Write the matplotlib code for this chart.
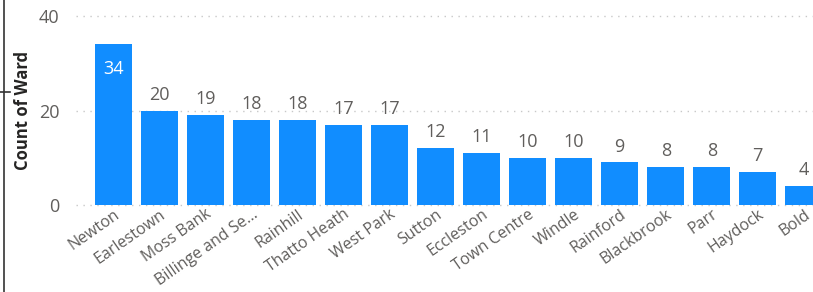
import matplotlib.pyplot as plt
from matplotlib.lines import Line2D

# Ward counts
wards = ["Newton", "Earlestown", "Moss Bank", "Billinge and Se...", "Rainhill",
         "Thatto Heath", "West Park", "Sutton", "Eccleston", "Town Centre",
         "Windle", "Rainford", "Blackbrook", "Parr", "Haydock", "Bold"]
counts = [34, 20, 19, 18, 18, 17, 17, 12, 11, 10, 10, 9, 8, 8, 7, 4]
y_ticks = [0, 20, 40]

bar_color = "#118DFF"
text_gray = "#605E5C"

plt.rcParams['font.family'] = ['Open Sans', 'DejaVu Sans']

fig = plt.figure(figsize=(8.13, 2.92), dpi=100)
ax = fig.add_axes([0.0935, 0.298, 0.9065, 0.647])

x = list(range(len(wards)))
bars = ax.bar(x, counts, width=0.8, color=bar_color, zorder=2)

ax.set_xlim(-0.815, 15.2)
ax.set_ylim(0, 40)
ax.set_yticks(y_ticks)
for t in y_ticks:
    ax.axhline(t, color="#C8C8C8", linestyle=(0, (1, 4)), linewidth=1,
               zorder=1, clip_on=False)

for s in ax.spines.values():
    s.set_visible(False)
ax.tick_params(axis='y', length=0, pad=12, labelsize=13, labelcolor=text_gray)
ax.tick_params(axis='x', length=0, pad=1, labelsize=11.5, labelcolor=text_gray)
ax.set_xticks(x)
ax.set_xticklabels(wards, rotation=35, ha='right', rotation_mode='anchor')

ax.set_ylabel("Count of Ward", fontsize=12, fontweight='bold', color="#252423")
ax.yaxis.set_label_coords(-0.06, 0.5)

# data labels
for i, (b, v) in enumerate(zip(bars, counts)):
    if i == 0:
        ax.annotate(str(v), (b.get_x() + b.get_width() / 2, v),
                    xytext=(0, -11), textcoords='offset points',
                    ha='center', va='top', fontsize=13, color='white')
    else:
        ax.annotate(str(v), (b.get_x() + b.get_width() / 2, v),
                    xytext=(0, 5), textcoords='offset points',
                    ha='center', va='bottom', fontsize=13, color=text_gray)

# frame line on left edge
fig.add_artist(Line2D([0.0045, 0.0045], [0, 1], color="#333333", linewidth=1.2))
fig.add_artist(Line2D([0, 0.012], [0.685, 0.685], color="#333333", linewidth=1.2))

fig.savefig("out.png", dpi=100)
